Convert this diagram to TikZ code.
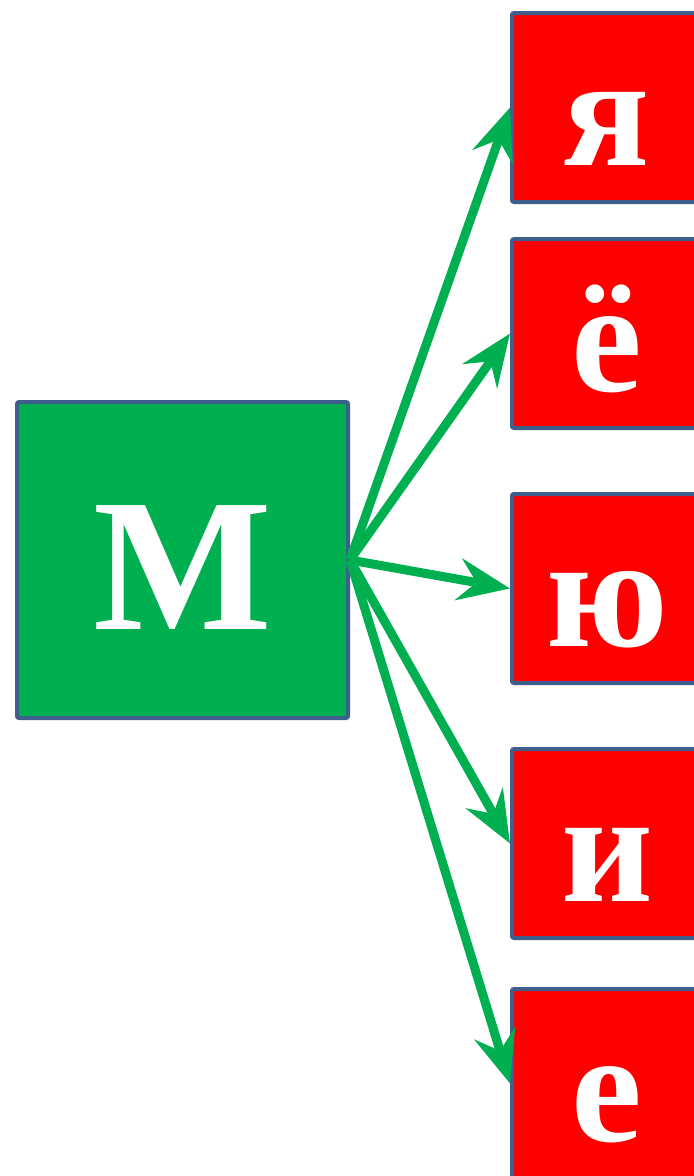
\documentclass[tikz,border=0pt]{standalone}
\usepackage{fontspec}
\setmainfont{Liberation Serif}[BoldFont={Liberation Serif Bold}]
\usetikzlibrary{arrows.meta}
\definecolor{bgreen}{HTML}{00B050}
\definecolor{bred}{HTML}{FF0000}
\definecolor{bedge}{HTML}{3E5F8C}
\tikzset{
  redbox/.style={draw=bedge, line width=4bp, fill=bred, rounded corners=2bp,
    minimum width=190bp, minimum height=189bp, inner sep=0pt, anchor=north west,
    text=white, font=\fontsize{160}{170}\selectfont\bfseries,
    text height=116bp, text depth=0bp},
  greenbox/.style={draw=bedge, line width=4bp, fill=bgreen, rounded corners=2bp,
    minimum width=331bp, minimum height=316bp, inner sep=0pt, anchor=north west,
    text=white, font=\fontsize{190}{200}\selectfont\bfseries,
    text height=138bp, text depth=0bp},
  link/.style={draw=bgreen, line width=9bp,
    -{Stealth[length=52bp, width=42bp, inset=18bp]}}
}
\begin{document}
\begin{tikzpicture}[x=1bp,y=-1bp]
\useasboundingbox (0,0) rectangle (694,1176);
\node[greenbox] (m) at (15,400) {М};
\node[redbox] (ya) at (510,11) {я};
\node[redbox] (yo) at (510,237) {ё};
\node[redbox] (yu) at (510,492) {ю};
\node[redbox] (i) at (510,747) {и};
\node[redbox] (e) at (510,987) {е};
\draw[link] (m.east) -- (ya.west);
\draw[link] (m.east) -- (yo.west);
\draw[link] (m.east) -- (yu.west);
\draw[link] (m.east) -- (i.west);
\draw[link] (m.east) -- (e.west);
\end{tikzpicture}
\end{document}
